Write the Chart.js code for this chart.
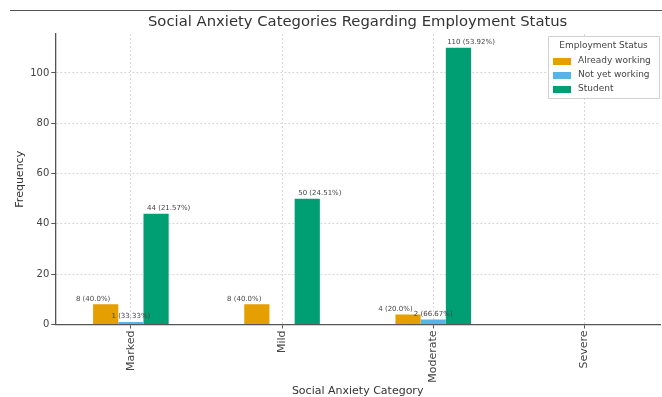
<!DOCTYPE html>
<html>
<head>
<meta charset="utf-8">
<script src="https://cdn.jsdelivr.net/npm/chart.js@4"></script>
<style>
  html, body { margin: 0; padding: 0; background: #fff; }
  #wrap { width: 662px; height: 397px; }
</style>
</head>
<body>
<div id="wrap"><canvas id="anxietyChart" width="662" height="397"></canvas></div>
<script>
var categories = ['Marked', 'Mild', 'Moderate', 'Severe'];
var alreadyWorking = [8, 8, 4, 0];
var notYetWorking = [1, 0, 2, 0];
var student = [44, 50, 110, 0];
var yTicks = [0, 20, 40, 60, 80, 100];

var seriesNames = ['Already working', 'Not yet working', 'Student'];
var seriesColors = ['#E69F00', '#56B4E9', '#009E73'];
var chartTitle = 'Social Anxiety Categories Regarding Employment Status';

function pct(value, arr) {
    var total = arr.reduce(function (a, b) { return a + b; }, 0);
    return (value / total * 100);
}

function fmtPct(p) {
    // one decimal when it is whole, otherwise two (like python's round)
    var r = Math.round(p * 100) / 100;
    return (r % 1 === 0 ? r.toFixed(1) : String(r)) + '%';
}

// value labels above each bar
var barLabels = {
    id: 'barLabels',
    afterDatasetsDraw: function (chart) {
        var ctx = chart.ctx;
        ctx.save();
        ctx.font = '7px "DejaVu Sans"';
        ctx.fillStyle = '#444';
        ctx.textAlign = 'center';
        ctx.textBaseline = 'bottom';
        chart.data.datasets.forEach(function (ds, di) {
            var meta = chart.getDatasetMeta(di);
            meta.data.forEach(function (bar, i) {
                var v = ds.data[i];
                if (!v) return;
                var left = bar.x - bar.width / 2;
                var x = left + di * bar.width / 2;
                ctx.fillText(v + ' (' + fmtPct(pct(v, ds.data)) + ')', x, bar.y - 2);
            });
        });
        ctx.restore();
    }
};

// legend box in the upper right of the plot
var boxLegend = {
    id: 'boxLegend',
    afterDraw: function (chart) {
        var ctx = chart.ctx;
        var x0 = 548, y0 = 36, w = 111, h = 62;
        ctx.save();
        ctx.fillStyle = 'rgba(255,255,255,0.9)';
        ctx.strokeStyle = '#d0d0d0';
        ctx.lineWidth = 1;
        ctx.beginPath();
        ctx.rect(x0 + 0.5, y0 + 0.5, w, h);
        ctx.fill();
        ctx.stroke();
        ctx.fillStyle = '#444';
        ctx.font = '9px "DejaVu Sans"';
        ctx.textBaseline = 'middle';
        ctx.textAlign = 'center';
        ctx.fillText('Employment Status', x0 + w / 2, y0 + 10);
        ctx.textAlign = 'left';
        chart.data.datasets.forEach(function (ds, di) {
            var yy = y0 + 25 + di * 14;
            ctx.fillStyle = ds.backgroundColor;
            ctx.fillRect(x0 + 5, yy - 3, 18, 7);
            ctx.fillStyle = '#444';
            ctx.fillText(ds.label, x0 + 30, yy);
        });
        ctx.restore();
    }
};

// rule across the top of the figure and the title centred over the plot
var header = {
    id: 'header',
    afterDraw: function (chart) {
        var ctx = chart.ctx;
        var area = chart.chartArea;
        ctx.save();
        ctx.strokeStyle = '#555';
        ctx.lineWidth = 1;
        ctx.beginPath();
        ctx.moveTo(10, 10.5);
        ctx.lineTo(662, 10.5);
        ctx.stroke();
        ctx.fillStyle = '#333';
        ctx.font = '14.8px "DejaVu Sans"';
        ctx.textAlign = 'center';
        ctx.textBaseline = 'middle';
        ctx.fillText(chartTitle, (area.left + area.right) / 2, 22);
        ctx.restore();
    }
};

var ctx = document.getElementById('anxietyChart');
var anxietyChart = new Chart(ctx, {
    type: 'bar',
    data: {
        labels: categories,
        datasets: [
            { label: seriesNames[0], data: alreadyWorking, backgroundColor: seriesColors[0] },
            { label: seriesNames[1], data: notYetWorking, backgroundColor: seriesColors[1] },
            { label: seriesNames[2], data: student, backgroundColor: seriesColors[2] }
        ]
    },
    options: {
        responsive: false,
        animation: false,
        categoryPercentage: 0.5,
        barPercentage: 1.0,
        layout: { padding: { left: 14, right: 2, top: 34, bottom: -1 } },
        plugins: {
            legend: { display: false },
            tooltip: { enabled: false },
            title: { display: false }
        },
        scales: {
            x: {
                grid: {
                    offset: false,
                    color: '#d8d8d8',
                    tickLength: 4,
                    tickColor: '#555',
                    tickBorderDash: []
                },
                border: { display: true, color: '#555', width: 1.3, dash: [2, 2] },
                ticks: {
                    color: '#444',
                    font: { family: 'DejaVu Sans', size: 11 },
                    minRotation: 90,
                    maxRotation: 90,
                    padding: 2
                },
                title: {
                    display: true,
                    text: 'Social Anxiety Category',
                    color: '#333',
                    font: { family: 'DejaVu Sans', size: 11 },
                    padding: { top: 0, bottom: 0 }
                }
            },
            y: {
                min: 0,
                max: 115.5,
                grid: {
                    color: '#d8d8d8',
                    tickLength: 4,
                    tickColor: '#555',
                    tickBorderDash: []
                },
                border: { display: true, color: '#555', width: 1.3, dash: [2, 2] },
                afterBuildTicks: function (axis) {
                    axis.ticks = yTicks.map(function (v) { return { value: v }; });
                },
                ticks: {
                    color: '#444',
                    font: { family: 'DejaVu Sans', size: 10 },
                    padding: 2
                },
                title: {
                    display: true,
                    text: 'Frequency',
                    color: '#333',
                    font: { family: 'DejaVu Sans', size: 11 },
                    padding: { top: 0, bottom: 1 }
                }
            }
        }
    },
    plugins: [barLabels, boxLegend, header]
});
</script>
</body>
</html>
